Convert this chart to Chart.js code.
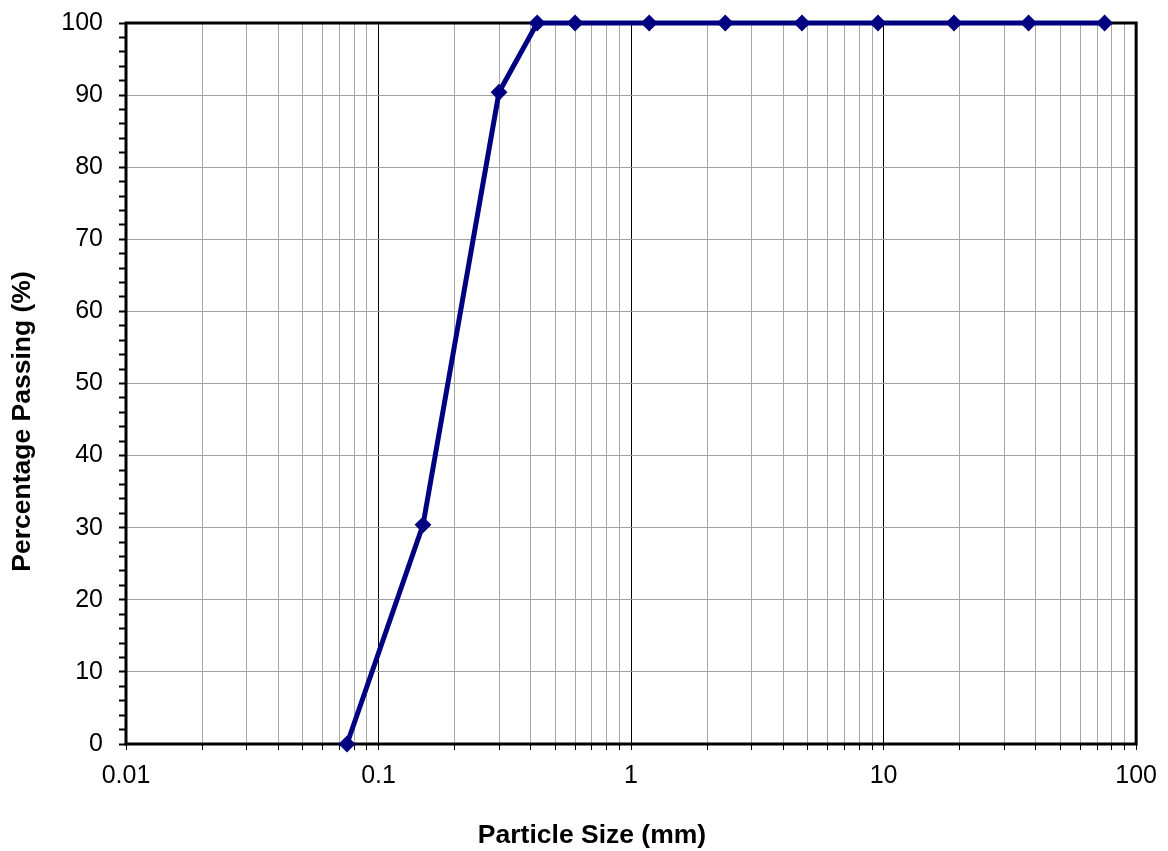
<!DOCTYPE html>
<html>
<head>
<meta charset="utf-8">
<script src="https://cdn.jsdelivr.net/npm/chart.js@4"></script>
<style>
  html, body { margin: 0; padding: 0; background: #fff; }
  #wrap { width: 1168px; height: 851px; }
</style>
</head>
<body>
<div id="wrap"><canvas id="gradation"></canvas></div>
<script>
// sieve openings (mm) and cumulative percentage passing
const sieveSizes = [0.075, 0.15, 0.3, 0.425, 0.6, 1.18, 2.36, 4.75, 9.5, 19, 37.5, 75];
const percentPassing = [0, 30.4, 90.4, 100, 100, 100, 100, 100, 100, 100, 100, 100];

// log axis decades and their labels
const xDecades = [0.01, 0.1, 1, 10, 100];
const xDecadeLabels = ['0.01', '0.1', '1', '10', '100'];

const xTitle = 'Particle Size (mm)';
const yTitle = 'Percentage Passing (%)';

// one tick per 1..9 step within each decade
const xTicks = [];
xDecades.slice(0, -1).forEach(d => {
  for (let m = 1; m < 10; m++) xTicks.push(parseFloat((d * m).toPrecision(6)));
});
xTicks.push(xDecades[xDecades.length - 1]);

const FONT = "'Liberation Sans', Arial, sans-serif";

// black box around the plot area, drawn under the curve
const frame = {
  id: 'frame',
  beforeDatasetsDraw(chart) {
    const { ctx, chartArea: a } = chart;
    ctx.save();
    ctx.strokeStyle = '#000';
    ctx.lineWidth = 3;
    ctx.strokeRect(a.left, a.top, a.right - a.left, a.bottom - a.top);
    ctx.restore();
  }
};

// axis titles, centred on the whole canvas rather than the plot area
const axisTitles = {
  id: 'axisTitles',
  afterDraw(chart) {
    const { ctx, width, height } = chart;
    ctx.save();
    ctx.fillStyle = '#000';
    ctx.font = 'bold 26.5px ' + FONT;
    ctx.textAlign = 'center';
    ctx.textBaseline = 'middle';
    ctx.fillText(xTitle, width / 2 + 8, height - 15);
    ctx.translate(23, height / 2 - 4);
    ctx.rotate(-Math.PI / 2);
    ctx.fillText(yTitle, 0, 0);
    ctx.restore();
  }
};

new Chart(document.getElementById('gradation'), {
  type: 'line',
  data: {
    datasets: [{
      data: sieveSizes.map((s, i) => ({ x: s, y: percentPassing[i] })),
      borderColor: '#000080',
      backgroundColor: '#000080',
      borderWidth: 5,
      pointStyle: 'rectRot',
      pointRadius: 7,
      pointBorderWidth: 2,
      tension: 0,
      clip: false
    }]
  },
  options: {
    responsive: true,
    maintainAspectRatio: false,
    animation: false,
    layout: { padding: { top: 23, right: 31, left: 0, bottom: 0 } },
    plugins: { legend: { display: false }, tooltip: { enabled: false } },
    scales: {
      x: {
        type: 'logarithmic',
        position: 'bottom',
        min: 0.01,
        max: 100,
        afterBuildTicks: scale => { scale.ticks = xTicks.map(v => ({ value: v })); },
        afterFit: scale => { scale.height = 107; },
        border: { display: false },
        grid: {
          color: c => xDecades.includes(c.tick.value) ? '#000' : '#a6a6a6',
          tickColor: '#000',
          tickLength: 6,
          lineWidth: 1
        },
        ticks: {
          autoSkip: false,
          maxRotation: 0,
          padding: 11,
          color: '#000',
          font: { family: FONT, size: 25 },
          callback: v => {
            const i = xDecades.indexOf(v);
            return i >= 0 ? xDecadeLabels[i] : '';
          }
        }
      },
      y: {
        min: 0,
        max: 100,
        afterFit: scale => {
          scale.width = 126;
          scale.paddingTop = 0;
          scale.paddingBottom = 0;
        },
        border: { display: false },
        grid: {
          color: c => c.tick.value % 10 === 0 ? '#a0a0a0' : 'rgba(0,0,0,0)',
          tickColor: '#000',
          tickLength: 7,
          tickWidth: 2,
          lineWidth: 1
        },
        ticks: {
          stepSize: 2,
          autoSkip: false,
          padding: 16,
          color: '#000',
          font: { family: FONT, size: 25 },
          callback: v => v % 10 === 0 ? String(v) : ''
        }
      }
    }
  },
  plugins: [frame, axisTitles]
});
</script>
</body>
</html>
